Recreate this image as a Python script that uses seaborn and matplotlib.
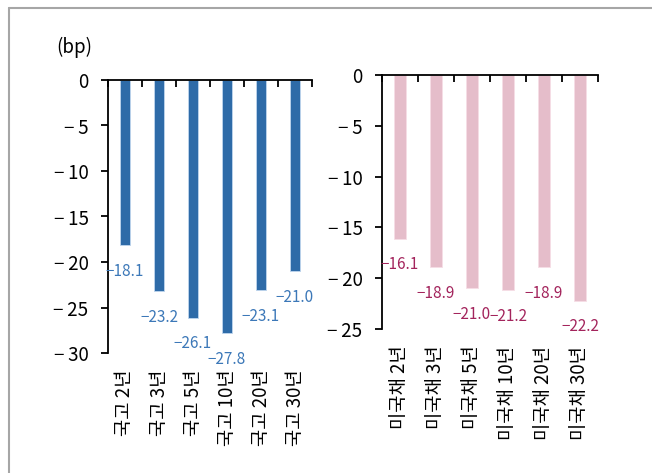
import matplotlib
matplotlib.use("Agg")
import matplotlib.pyplot as plt
import seaborn as sns
import pandas as pd
from matplotlib.ticker import FixedLocator
from matplotlib.lines import Line2D

kr_categories = ["국고 2년", "국고 3년", "국고 5년", "국고 10년", "국고 20년", "국고 30년"]
kr_values = [-18.1, -23.2, -26.1, -27.8, -23.1, -21.0]
us_categories = ["미국채 2년", "미국채 3년", "미국채 5년", "미국채 10년", "미국채 20년", "미국채 30년"]
us_values = [-16.1, -18.9, -21.0, -21.2, -18.9, -22.2]
kr_yticks = [0, -5, -10, -15, -20, -25, -30]
us_yticks = [0, -5, -10, -15, -20, -25]
unit_label = "(bp)"

sns.set_style("white")
plt.rcParams["font.family"] = ["Noto Sans CJK KR", "DejaVu Sans"]
plt.rcParams["axes.unicode_minus"] = True
plt.rcParams["text.color"] = "black"
plt.rcParams["xtick.color"] = "black"
plt.rcParams["ytick.color"] = "black"

W, H = 652, 473
fig = plt.figure(figsize=(W / 100, H / 100), dpi=100)


def px_axes(x0, x1, y0, y1):
    return fig.add_axes([x0 / W, 1 - y1 / H, (x1 - x0) / W, (y1 - y0) / H])


def style(ax, cats, vals, yticks, bar_color, edge_color, label_color, width):
    df = pd.DataFrame({"cat": cats, "val": vals})
    sns.barplot(data=df, x="cat", y="val", color=bar_color, width=width,
                edgecolor=edge_color, linewidth=0.6, saturation=1, ax=ax)
    ax.set_xlim(-0.5, len(cats) - 0.5)
    ax.set_ylim(min(yticks), 0)
    ax.set_yticks(yticks)
    ax.set_yticklabels([("−\u2009" + str(abs(t))) if t < 0 else str(t) for t in yticks],
                       color="black")
    ax.set_xlabel("")
    ax.set_ylabel("")
    for s in ["right", "bottom"]:
        ax.spines[s].set_visible(False)
    for s in ["top", "left"]:
        ax.spines[s].set_visible(True)
        ax.spines[s].set_color("black")
        ax.spines[s].set_linewidth(1.3)
    ax.set_xticks(range(len(cats)))
    ax.set_xticklabels(cats, rotation=90, ha="center", va="top", fontsize=13.5, color="black")
    ax.xaxis.set_minor_locator(FixedLocator([i - 0.5 for i in range(len(cats) + 1)]))
    ax.tick_params(axis="x", which="major", length=0, pad=12, bottom=True, top=False)
    ax.tick_params(axis="x", which="minor", length=5, width=1.3, direction="in",
                   top=True, bottom=False, color="black")
    ax.tick_params(axis="y", which="major", length=5, width=1.3, direction="out",
                   left=True, pad=9, labelsize=13.5, color="black")
    for i, v in enumerate(vals):
        ax.annotate(f"−{abs(v):.1f}", xy=(i, v), xytext=(0, -19), textcoords="offset points",
                    ha="center", va="center", fontsize=11, color=label_color,
                    annotation_clip=False)


ax1 = px_axes(108, 312, 80, 353)
style(ax1, kr_categories, kr_values, kr_yticks, "#2E6BA8", "#BFD6EE", "#3C78B8", 0.3)

ax2 = px_axes(382, 598, 75, 329)
style(ax2, us_categories, us_values, us_yticks, "#E5BDCA", "#F6DDE6", "#A3245C", 0.33)

fig.text(74 / W, 1 - 47 / H, unit_label, ha="center", va="center", fontsize=13.5, color="black")

fig.add_artist(Line2D([8.5 / W, 8.5 / W], [0, 1 - 8.5 / H], transform=fig.transFigure,
                      color="#A6A6A6", linewidth=1.5))
fig.add_artist(Line2D([8.5 / W, 1], [1 - 8.5 / H, 1 - 8.5 / H], transform=fig.transFigure,
                      color="#A6A6A6", linewidth=1.5))

fig.savefig("out.png", dpi=100)
